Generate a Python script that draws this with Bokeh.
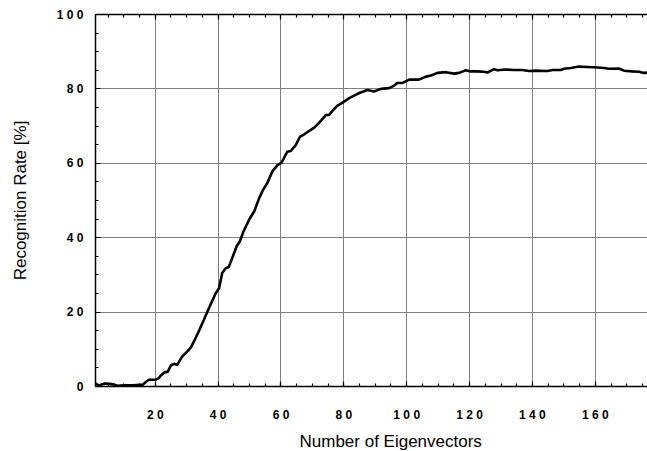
from bokeh.plotting import figure
from bokeh.models import (LinearAxis, SingleIntervalTicker, Range1d, Label,
                          CustomLabelingPolicy)
from bokeh.embed import file_html
from bokeh.resources import INLINE

# Number of eigenvectors vs recognition rate (%)
eigenvectors = [1, 2, 4, 5.5, 7, 8, 10, 13, 16, 17, 18, 20, 21, 22, 23, 24, 25, 26, 27,
                28.6, 30, 31.4, 33, 34, 35.2, 36.8, 38, 39.2, 40.3, 41.3, 42.4, 43.4, 44.3,
                45.9, 46.9, 48.1, 49.9, 51.5, 53.1, 54.1, 55.7, 57.3, 58.9, 60.2, 62, 63.1,
                64.7, 66.1, 67.4, 69, 70.6, 72.7, 74.3, 75.3, 76.9, 78, 80.1, 81.7, 83.3,
                84.9, 87.5, 89.6, 91.8, 94.4, 96, 97, 98.7, 100.8, 103.9, 106.1, 107.7,
                109.8, 112.4, 115.1, 116.7, 118.8, 120.4, 122.5, 124.6, 125.7, 127.8, 128.9,
                131.5, 134.1, 136.8, 138.9, 140.5, 144.8, 146.4, 149, 150, 152.2, 154.8,
                157.5, 159.6, 162.8, 164.4, 167.5, 169.1, 171.8, 173.9, 175.5, 176.6]
recognition = [0.8, 0.3, 0.8, 0.7, 0.5, 0.2, 0.3, 0.3, 0.5, 1.2, 1.8, 1.8, 2.2, 3.1, 3.8, 4.0,
               5.7, 6.1, 5.8, 8.1, 9.2, 10.6, 13.3, 15.1, 17.4, 20.5, 22.8, 25.0, 26.4, 30.5,
               31.8, 32.1, 34.1, 37.7, 39.0, 41.7, 44.9, 47.1, 50.7, 52.5, 54.8, 57.9, 59.5,
               60.2, 63.1, 63.3, 64.9, 67.2, 67.8, 68.7, 69.6, 71.4, 73.0, 73.0, 74.6, 75.5,
               76.6, 77.5, 78.2, 78.9, 79.7, 79.3, 80.0, 80.2, 80.9, 81.6, 81.6, 82.5, 82.5,
               83.3, 83.6, 84.3, 84.5, 84.1, 84.3, 85.0, 84.7, 84.7, 84.6, 84.4, 85.3, 85.0,
               85.2, 85.1, 85.1, 84.8, 84.9, 84.8, 85.1, 85.1, 85.4, 85.6, 86.0, 85.9, 85.8,
               85.6, 85.4, 85.5, 84.9, 84.7, 84.6, 84.3, 84.4]

x_tick_labels = {20: "2 0", 40: "4 0", 60: "6 0", 80: "8 0", 100: "1 0 0",
                 120: "1 2 0", 140: "1 4 0", 160: "1 6 0"}
y_tick_labels = {0: "0", 20: "2 0", 40: "4 0", 60: "6 0", 80: "8 0", 100: "1 0 0"}
x_title = "Number of Eigenvectors"
y_title = "Recognition Rate [%]"

FONT = "Liberation Sans"

p = figure(width=647, height=451, output_backend="svg", toolbar_location=None,
           x_range=Range1d(1, 176.6), y_range=Range1d(0, 100),
           x_axis_location=None, y_axis_location=None,
           min_border_left=95, min_border_right=0, min_border_top=14, min_border_bottom=65)
p.outline_line_color = None
p.background_fill_color = "white"
p.border_fill_color = "white"

xt = SingleIntervalTicker(interval=20, num_minor_ticks=4)
yt = SingleIntervalTicker(interval=20, num_minor_ticks=4)

def style_axis(ax, overrides=None):
    ax.axis_line_color = "black"
    ax.axis_line_width = 1.5
    ax.major_tick_in = 5
    ax.major_tick_out = 0
    ax.minor_tick_in = 3
    ax.minor_tick_out = 0
    ax.major_tick_line_color = "black"
    ax.minor_tick_line_color = "black"
    ax.major_tick_line_width = 1.2
    ax.minor_tick_line_width = 1.2
    if overrides is not None:
        ax.major_label_overrides = overrides
    ax.major_label_text_font = FONT
    ax.major_label_text_font_style = "bold"
    ax.major_label_text_color = "black"
    ax.major_label_text_font_size = "12px"

xb = LinearAxis(ticker=xt)
style_axis(xb, x_tick_labels)
xb.major_label_standoff = 21
p.add_layout(xb, "below")

yl = LinearAxis(ticker=yt, axis_label=y_title)
style_axis(yl, y_tick_labels)
yl.major_label_standoff = 12
yl.axis_label_standoff = 24
yl.axis_label_text_font = FONT
yl.axis_label_text_font_size = "17px"
yl.axis_label_text_font_style = "normal"
yl.axis_label_text_color = "black"
p.add_layout(yl, "left")

# top border with inward ticks, no labels
xa = LinearAxis(ticker=SingleIntervalTicker(interval=20, num_minor_ticks=4))
style_axis(xa)
xa.major_label_text_font_size = "1px"
xa.major_label_standoff = 0
xa.major_label_policy = CustomLabelingPolicy(
    code="for (const i of Array.from(indices)) { indices.unset(i) }\nreturn indices")
p.add_layout(xa, "above")

p.xgrid.ticker = xt
p.ygrid.ticker = yt
p.xgrid.grid_line_color = "#808080"
p.ygrid.grid_line_color = "#808080"
p.xgrid.grid_line_width = 1
p.ygrid.grid_line_width = 1

p.line(eigenvectors, recognition, line_color="black", line_width=2.6, line_join="round")

p.add_layout(Label(x=299, y=441, x_units="canvas", y_units="canvas", text=x_title,
                   text_align="left", text_baseline="alphabetic",
                   text_font=FONT, text_font_size="17px", text_color="black"), "below")

open("out.html", "w").write(file_html(p, INLINE))
